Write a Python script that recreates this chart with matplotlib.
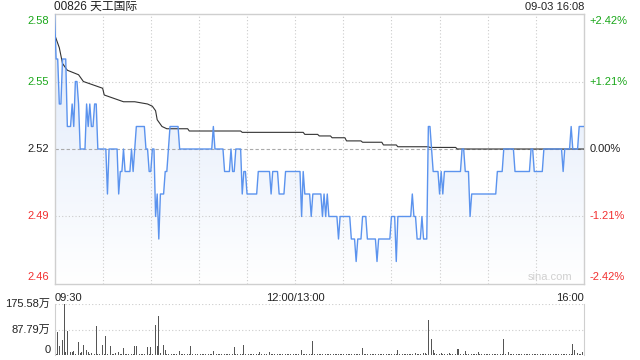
import numpy as np
import matplotlib
matplotlib.use('Agg')
import matplotlib.pyplot as plt
from matplotlib.colors import LinearSegmentedColormap

plt.rcParams['font.family'] = ['Liberation Sans', 'Noto Sans CJK SC', 'DejaVu Sans']

# ---- data ----
title = "00826 天工国际"
stamp = "09-03 16:08"
prev_close = 2.52
n_min = 331  # 09:30 .. 12:00 / 13:00 .. 16:00, one point per minute

# price as runs: minute where a level starts, and the level
price_start = [0, 1, 3, 5, 8, 11, 12, 13, 15, 16, 20, 21, 22, 23, 25, 27, 33, 34, 40, 41,
               43, 44, 48, 49, 50, 51, 57, 59, 61, 63, 64, 65, 66, 69, 71, 72, 78, 99, 100, 106,
               110, 111, 113, 117, 118, 120, 127, 135, 136, 140, 144, 154, 155, 156, 160, 161, 167, 168, 169, 170,
               171, 177, 178, 185, 188, 189, 192, 195, 201, 202, 210, 213, 214, 223, 224, 226, 229, 230, 233, 235,
               236, 240, 241, 242, 243, 254, 256, 259, 260, 276, 280, 287, 297, 299, 305, 317, 318, 322, 323, 327]
price_level = [2.58, 2.56, 2.54, 2.56, 2.53, 2.54, 2.53, 2.55, 2.54, 2.52, 2.54, 2.53, 2.54, 2.53, 2.54, 2.52, 2.50, 2.52, 2.50, 2.51,
               2.52, 2.51, 2.52, 2.51, 2.52, 2.53, 2.52, 2.51, 2.52, 2.49, 2.50, 2.48, 2.50, 2.51, 2.52, 2.53, 2.52, 2.53, 2.52, 2.51,
               2.52, 2.51, 2.52, 2.50, 2.51, 2.50, 2.51, 2.50, 2.51, 2.50, 2.51, 2.49, 2.51, 2.50, 2.49, 2.50, 2.49, 2.50, 2.49, 2.50,
               2.49, 2.48, 2.49, 2.48, 2.47, 2.48, 2.49, 2.48, 2.47, 2.48, 2.49, 2.47, 2.49, 2.50, 2.49, 2.48, 2.49, 2.48, 2.53, 2.52,
               2.51, 2.50, 2.51, 2.50, 2.51, 2.52, 2.51, 2.49, 2.50, 2.51, 2.52, 2.51, 2.52, 2.51, 2.52, 2.51, 2.52, 2.53, 2.52, 2.53]

# average price line, read points
avg_min = [0, 3, 5, 8, 15, 18, 22, 26, 30, 31, 35, 39, 43, 50, 58, 61, 63, 64, 67, 70,
           83, 84, 116, 117, 155, 156, 164, 165, 172, 173, 181, 182, 191, 192, 204, 205, 213, 214, 233, 234,
           250, 251, 330]
avg_val = [2.571, 2.565, 2.558, 2.555, 2.553, 2.550, 2.549, 2.548, 2.547, 2.544, 2.543, 2.542, 2.541, 2.541, 2.540, 2.539, 2.537, 2.533, 2.530, 2.529,
           2.529, 2.528, 2.528, 2.5274, 2.5274, 2.5265, 2.5265, 2.5258, 2.5258, 2.525, 2.525, 2.5236, 2.5236, 2.523, 2.523, 2.5218, 2.5218, 2.521, 2.521, 2.5207,
           2.5207, 2.520, 2.520]

# volume per minute, in 万
volume = [147, 5, 78, 30, 26, 50, 175.58, 10, 82, 39, 10, 12, 15, 5, 8, 44, 6, 10, 36, 6,
          18, 12, 4, 8, 3, 5, 99, 3, 4, 2, 33, 4, 64, 3, 5, 32, 3, 4, 8, 2,
          12, 3, 2, 24, 3, 4, 2, 3, 5, 2, 30, 30, 3, 2, 4, 3, 2, 5, 28, 3,
          28, 4, 3, 104, 30, 135, 8, 53, 36, 18, 4, 3, 2, 5, 3, 2, 4, 3, 15, 2,
          3, 4, 2, 3, 5, 32, 3, 2, 4, 3, 2, 5, 3, 2, 4, 26, 3, 2, 5, 15,
          4, 3, 2, 5, 3, 2, 4, 3, 5, 2, 3, 4, 28, 3, 5, 18, 2, 4, 36, 3,
          2, 4, 3, 2, 5, 3, 2, 4, 12, 3, 2, 4, 3, 5, 12, 2, 3, 4, 2, 3,
          5, 2, 3, 4, 2, 3, 5, 2, 4, 3, 2, 4, 3, 5, 18, 2, 3, 4, 2, 3,
          5, 47, 3, 2, 4, 3, 5, 2, 3, 4, 2, 3, 5, 63, 3, 2, 4, 3, 2, 5,
          3, 2, 4, 3, 5, 2, 3, 4, 2, 3, 5, 2, 23, 3, 4, 2, 3, 5, 2, 4,
          3, 15, 2, 4, 3, 5, 2, 3, 4, 2, 3, 18, 2, 4, 18, 3, 2, 5, 3, 4,
          2, 3, 5, 4, 3, 6, 4, 3, 5, 4, 6, 8, 5, 120, 100, 54, 18, 6, 4, 5,
          3, 6, 4, 5, 3, 4, 6, 3, 5, 4, 3, 20, 20, 4, 3, 5, 15, 3, 4, 2,
          5, 3, 4, 2, 12, 3, 5, 2, 4, 3, 2, 5, 3, 4, 2, 3, 5, 2, 4, 3,
          54, 5, 3, 12, 4, 2, 3, 5, 2, 4, 3, 2, 5, 3, 4, 2, 3, 5, 2, 4,
          3, 2, 5, 3, 4, 2, 3, 5, 2, 4, 3, 2, 5, 3, 4, 2, 3, 5, 2, 4,
          3, 5, 4, 38, 16, 4, 6, 5, 3, 12, 6]

price_ticks = [2.58, 2.55, 2.52, 2.49, 2.46]
pct_labels = ['+2.42%', '+1.21%', '0.00%', '-1.21%', '-2.42%']
vol_ticks = [175.58, 87.79, 0]
vol_labels = ['175.58万', '87.79万', '0']
time_pos = [0, 150, 330]
time_labels = ['09:30', '12:00/13:00', '16:00']

GREEN = '#1aa71a'
RED = '#f23030'
BLUE = '#5b93ee'
GRID = '#cccccc'
FRAME = '#cfcfcf'

counts = np.diff(price_start + [n_min])
price = np.repeat(price_level, counts)
mins = np.arange(n_min)

fig = plt.figure(figsize=(6.4, 3.6), dpi=100)
W, H = 640.0, 360.0
x0, x1 = 54.5, 584
ax = fig.add_axes([x0 / W, 1 - 284 / H, (x1 - x0) / W, 270 / H])
axv = fig.add_axes([x0 / W, 1 - 355 / H, (x1 - x0) / W, 51 / H])

ymin, ymax = 2.46, 2.58
ax.set_xlim(0, n_min - 1)
ax.set_ylim(ymin, ymax)

# gradient fill under the price line
poly = ax.fill_between(mins, price, ymin, color='none', lw=0)
cmap = LinearSegmentedColormap.from_list('g', ['#ffffff', '#dde8fa'])
grad = np.linspace(0, 1, 256).reshape(-1, 1)
im = ax.imshow(grad, cmap=cmap, origin='lower', aspect='auto',
               extent=[0, n_min - 1, ymin, ymax], zorder=1)
im.set_clip_path(poly.get_paths()[0], transform=ax.transData)

for t in range(30, n_min - 1, 30):
    ax.axvline(t, color=GRID, lw=0.8, ls=(0, (1, 2)), zorder=2)
for p in [2.55, 2.49]:
    ax.axhline(p, color=GRID, lw=0.8, ls=(0, (1, 2)), zorder=2)
ax.axhline(prev_close, color='#aaaaaa', lw=0.8, ls=(0, (3, 2)), zorder=2)

ax.plot(mins, price, color=BLUE, lw=1.0, zorder=4)
ax.plot(avg_min, avg_val, color='#333333', lw=0.8, zorder=3)

ax.set_xticks([])
ax.set_yticks([])
for s in ax.spines.values():
    s.set_color(FRAME)
    s.set_linewidth(1.0)

# price labels left and percent labels right
label_y = [ymax - 0.003, 2.55, 2.52, 2.49, ymin + 0.003]
for p, ly, pl in zip(price_ticks, label_y, pct_labels):
    c = GREEN if p > prev_close else (RED if p < prev_close else '#222222')
    ax.text(-3.5, ly, '%.2f' % p, ha='right', va='center', fontsize=8, color=c)
    ax.text(n_min + 2.5, ly, pl, ha='left', va='center', fontsize=8, color=c)

for tp, tl, ha in zip(time_pos, time_labels, ['left', 'center', 'right']):
    ax.text(tp, ymin - 0.004, tl, ha=ha, va='top', fontsize=8, color='#222222')

ax.text(323, ymin + 0.001, 'sina.com', ha='right', va='bottom', fontsize=8, color='#d0d0d0')

fig.text(x0 / W, 1 - 7 / H, title, ha='left', va='center', fontsize=8.5, color='#222222')
fig.text(x1 / W, 1 - 7 / H, stamp, ha='right', va='center', fontsize=8, color='#222222')

# volume panel
axv.set_xlim(0, n_min - 1)
axv.set_ylim(0, vol_ticks[0])
axv.bar(mins, volume, width=0.5, color='#555555', zorder=3)
for v in vol_ticks[:2]:
    axv.axhline(v, color=GRID, lw=0.8, ls=(0, (1, 2)), zorder=1)
axv.set_xticks([])
axv.set_yticks([])
for k, s in axv.spines.items():
    s.set_visible(k in ('left', 'right'))
    s.set_color(FRAME)
for v, vl in zip(vol_ticks, vol_labels):
    yy = v if v > 0 else 18
    axv.text(-2.5, yy, vl, ha='right', va='center', fontsize=8, color='#222222')

fig.savefig('out.png', dpi=100)
